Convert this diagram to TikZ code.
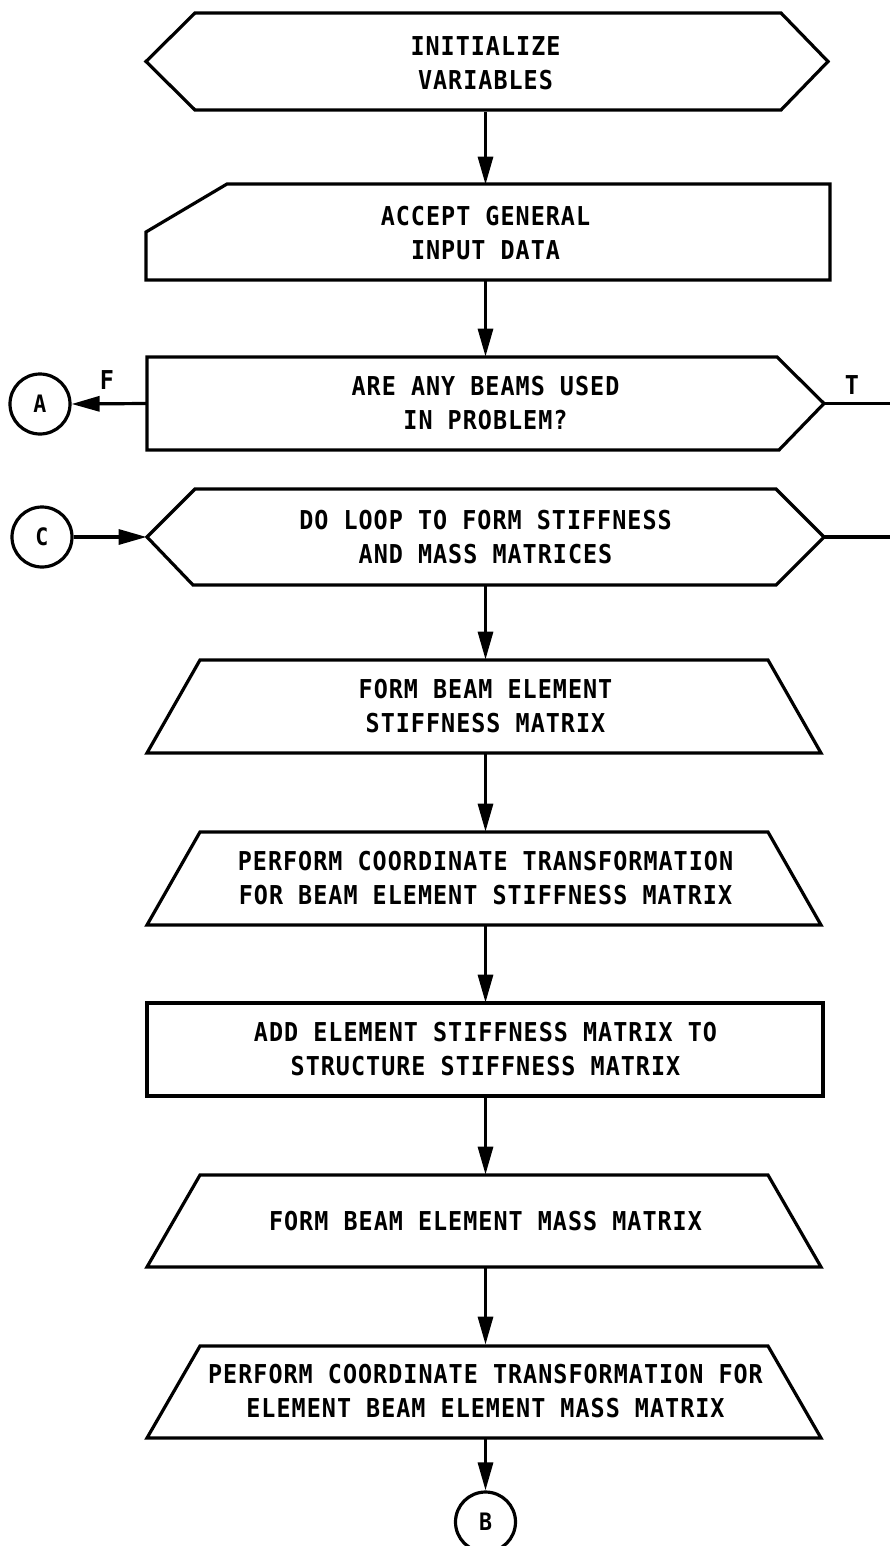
\documentclass[tikz,border=0pt]{standalone}
\usepackage{fontspec}
\newfontfamily\chartfont{DejaVu Sans Mono}[FakeStretch=0.9, LetterSpace=3.9]
\usetikzlibrary{arrows.meta}

% outline of the process trapezium (top y, bottom y)
\newcommand\trapbox[2]{\draw[shp] (200,#1) -- (768,#1) -- (821,#2) -- (147,#2) -- cycle;}

\begin{document}
\begin{tikzpicture}[x=0.5pt,y=-0.5pt,
  shp/.style={line width=1.6pt, line join=miter},
  flow/.style={line width=1.6pt, -{Triangle[length=14pt,width=7.5pt]}},
  txt/.style={font=\chartfont\bfseries\fontsize{13}{17}\selectfont,
              align=center, inner sep=0pt},
  conn/.style={draw, circle, line width=1.6pt, minimum size=30pt, inner sep=0pt,
               font=\chartfont\bfseries\fontsize{12}{14}\selectfont}]
\useasboundingbox (0,0) rectangle (890,1546);

% --- start: initialise ---
\draw[shp] (146,61.5) -- (195,13) -- (781,13) -- (828,61.5) -- (781,110) -- (195,110) -- cycle;
\node[txt, minimum height=48.5pt] (init) at (485.5,63) {INITIALIZE\\VARIABLES};

% --- manual input ---
\draw[shp] (227,184) -- (830,184) -- (830,280) -- (146,280) -- (146,232) -- cycle;
\node[txt, minimum height=48pt] (accept) at (485.5,233) {ACCEPT GENERAL\\INPUT DATA};

% --- decision ---
\draw[shp] (147,357) -- (777,357) -- (824,403.5) -- (779,450) -- (147,450) -- cycle;
\node[txt, minimum width=338.5pt, minimum height=46.5pt] (dec) at (485.5,403.5)
  {ARE ANY BEAMS USED\\IN PROBLEM?};

% --- loop ---
\draw[shp] (147,537) -- (195,489) -- (776,489) -- (824,537) -- (776,585) -- (193,585) -- cycle;
\node[txt, minimum width=338.5pt, minimum height=48pt] (doloop) at (485.5,537)
  {DO LOOP TO FORM STIFFNESS\\AND MASS MATRICES};

% --- element matrices ---
\trapbox{660}{753}
\node[txt, minimum height=46.5pt] (stiff) at (485.5,706.5) {FORM BEAM ELEMENT\\STIFFNESS MATRIX};

\trapbox{832}{925}
\node[txt, minimum height=46.5pt] (transf) at (485.5,878.5)
  {PERFORM COORDINATE TRANSFORMATION\\FOR BEAM ELEMENT STIFFNESS MATRIX};

\draw[shp] (147,1003) rectangle (823,1096);
\node[txt, minimum height=46.5pt] (add) at (485.5,1049.5)
  {ADD ELEMENT STIFFNESS MATRIX TO\\STRUCTURE STIFFNESS MATRIX};

\trapbox{1175}{1267}
\node[txt, minimum height=46pt] (mass) at (485.5,1221) {FORM BEAM ELEMENT MASS MATRIX};

\trapbox{1346}{1438}
\node[txt, minimum height=46pt] (masstr) at (485.5,1391)
  {PERFORM COORDINATE TRANSFORMATION FOR\\ELEMENT BEAM ELEMENT MASS MATRIX};

% --- off-page connectors ---
\node[conn] (A) at (40,404) {A};
\node[conn] (C) at (42,537) {C};
\node[conn] (B) at (485.5,1522) {B};
\coordinate (tout) at (890,403.5);
\coordinate (loopout) at (890,537);

\node[txt] (F) at (107,380) {F};
\node[txt] (T) at (852,385) {T};

% --- connectors ---
\draw[flow] (init.south) -- (accept.north);
\draw[flow] (accept.south) -- (dec.north);
\draw[flow] (dec.west) -- (A.east);
\draw[shp] (dec.east) -- (tout);
\draw[flow] (C.east) -- (doloop.west);
\draw[shp] (doloop.east) -- (loopout);
\draw[flow] (doloop.south) -- (stiff.north);
\draw[flow] (stiff.south) -- (transf.north);
\draw[flow] (transf.south) -- (add.north);
\draw[flow] (add.south) -- (mass.north);
\draw[flow] (mass.south) -- (masstr.north);
\draw[flow] (masstr.south) -- (B.north);
\end{tikzpicture}
\end{document}
